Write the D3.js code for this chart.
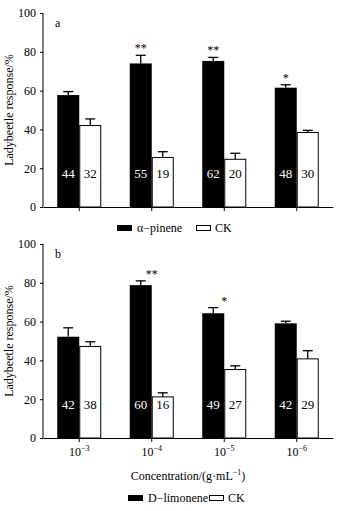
<!DOCTYPE html>
<html>
<head>
<meta charset="utf-8">
<script src="https://cdn.jsdelivr.net/npm/d3@7"></script>
<style>
body { margin:0; background:#fff; }
svg text { font-family:"Liberation Serif", "DejaVu Serif", serif; fill:#000; }
</style>
</head>
<body>
<svg id="chart"></svg>
<script>
var screen = {width:337, height:511};

// concentration groups (x axis)
var concentrations = ["-3", "-4", "-5", "-6"];
var yTicks = [0, 20, 40, 60, 80, 100];

// panel a : alpha-pinene vs CK
var pineneMean = [57.7, 74, 75.3, 61.5];
var pineneErr = [1.8, 4.2, 1.8, 1.5];
var pineneCount = [44, 55, 62, 48];
var pineneStars = ["", "**", "**", "*"];
var ckAMean = [42, 25.5, 24.6, 38.4];
var ckAErr = [3.4, 3, 3.1, 1.1];
var ckACount = [32, 19, 20, 30];

// panel b : D-limonene vs CK
var limoneneMean = [52.2, 78.8, 64.3, 59.1];
var limoneneErr = [4.6, 2.2, 2.9, 1.1];
var limoneneCount = [42, 60, 49, 42];
var limoneneStars = ["", "**", "*", ""];
var ckBMean = [47.2, 21.2, 35.3, 40.8];
var ckBErr = [2.4, 2.1, 1.9, 4.2];
var ckBCount = [38, 16, 27, 29];

var svg = d3.select("#chart")
    .attr("width", screen.width)
    .attr("height", screen.height);

var drawPanel = function(opts)
    {
        var margins = {left:43, right:4};
        var width = screen.width - margins.left - margins.right;
        var g = svg.append("g")
            .attr("transform", "translate("+margins.left+","+opts.top+")");

        var xscale = d3.scaleBand()
            .domain(concentrations)
            .range([0, width]);
        var yscale = d3.scaleLinear()
            .domain([0, 100])
            .range([opts.height, 0]);
        var barW = 22;

        // y axis
        var yAxis = d3.axisLeft(yscale).tickValues(yTicks).tickSize(3).tickPadding(4);
        var ya = g.append("g").call(yAxis);
        ya.select(".domain").attr("d", "M0,0V"+opts.height);
        ya.selectAll("text").style("font-size", "12px").attr("fill", "#000");

        // x axis
        var xAxis = d3.axisBottom(xscale).tickSize(4).tickSizeOuter(0);
        var xa = g.append("g")
            .attr("transform", "translate(0,"+opts.height+")")
            .call(xAxis);
        xa.selectAll(".tick text").remove();

        if (opts.showTicks)
            {
                var lab = xa.selectAll(".tick").append("text")
                    .attr("y", 18)
                    .attr("text-anchor", "middle")
                    .attr("fill", "#000")
                    .style("font-size", "12px");
                lab.text("10");
                lab.append("tspan")
                    .attr("dy", -5)
                    .style("font-size", "8px")
                    .text(function(d){ return d.replace("-", "\u2212"); });

                var t = g.append("text")
                    .attr("x", width/2)
                    .attr("y", opts.height + 42)
                    .attr("text-anchor", "middle")
                    .style("font-size", "12px")
                    .text("Concentration/(g\u00b7mL");
                t.append("tspan").attr("dy", -5).style("font-size", "8px").text("\u22121");
                t.append("tspan").attr("dy", 5).text(")");
            }

        // y title
        g.append("text")
            .attr("transform", "translate(-30,"+(opts.height/2)+") rotate(-90)")
            .attr("text-anchor", "middle")
            .style("font-size", "12px")
            .text("Ladybeetle response/%");

        g.append("text")
            .attr("x", 12).attr("y", 14)
            .style("font-size", "12px")
            .text(opts.letter);

        var rows = concentrations.map(function(c, i)
            {
                return {c:c, tm:opts.treat[i], te:opts.treatErr[i], tn:opts.treatN[i],
                        cm:opts.ck[i], ce:opts.ckErr[i], cn:opts.ckN[i], star:opts.stars[i]};
            });
        var center = function(d){ return xscale(d.c) + xscale.bandwidth()/2; };

        var grp = g.selectAll(".grp").data(rows).enter().append("g");

        var errBar = function(sel, xf, mean, err)
            {
                sel.append("line")
                    .attr("x1", xf).attr("x2", xf)
                    .attr("y1", function(d){ return yscale(mean(d)); })
                    .attr("y2", function(d){ return yscale(mean(d)+err(d)); })
                    .attr("stroke", "#000").attr("stroke-width", 1.3);
                sel.append("line")
                    .attr("x1", function(d){ return xf(d)-5; })
                    .attr("x2", function(d){ return xf(d)+5; })
                    .attr("y1", function(d){ return yscale(mean(d)+err(d)); })
                    .attr("y2", function(d){ return yscale(mean(d)+err(d)); })
                    .attr("stroke", "#000").attr("stroke-width", 1.3);
            };

        grp.append("rect")
            .attr("x", function(d){ return center(d) - barW; })
            .attr("y", function(d){ return yscale(d.tm); })
            .attr("width", barW)
            .attr("height", function(d){ return opts.height - yscale(d.tm); })
            .attr("fill", "#000");
        grp.append("rect")
            .attr("x", function(d){ return center(d) + 0.5; })
            .attr("y", function(d){ return yscale(d.cm); })
            .attr("width", barW - 1)
            .attr("height", function(d){ return opts.height - yscale(d.cm); })
            .attr("fill", "#fff").attr("stroke", "#000").attr("stroke-width", 1);

        errBar(grp, function(d){ return center(d) - barW/2; }, function(d){ return d.tm; }, function(d){ return d.te; });
        errBar(grp, function(d){ return center(d) + barW/2; }, function(d){ return d.cm; }, function(d){ return d.ce; });

        grp.append("text")
            .attr("x", function(d){ return center(d) - barW/2; })
            .attr("y", yscale(15))
            .attr("text-anchor", "middle")
            .style("fill", "#fff")
            .style("font-size", "13px")
            .text(function(d){ return d.tn; });
        grp.append("text")
            .attr("x", function(d){ return center(d) + barW/2; })
            .attr("y", yscale(15))
            .attr("text-anchor", "middle")
            .style("font-size", "13px")
            .text(function(d){ return d.cn; });

        grp.append("text")
            .attr("x", function(d){ return center(d) - barW/2 + opts.starDx; })
            .attr("y", function(d){ return yscale(d.tm + d.te) - 3; })
            .attr("text-anchor", "middle")
            .style("font-size", "12px")
            .text(function(d){ return d.star; });

        // legend
        var leg = g.append("g").attr("transform", "translate(0,"+opts.legendY+")");
        leg.append("rect").attr("x", opts.legX[0]).attr("y", -3).attr("width", 15).attr("height", 6).attr("fill", "#000");
        leg.append("text").attr("x", opts.legX[0]+20).attr("y", 4).style("font-size", "12px").text(opts.treatName);
        leg.append("rect").attr("x", opts.legX[1]+0.5).attr("y", -2.5).attr("width", 14).attr("height", 5)
            .attr("fill", "#fff").attr("stroke", "#000").attr("stroke-width", 1);
        leg.append("text").attr("x", opts.legX[1]+19).attr("y", 4).style("font-size", "12px").text("CK");
    };

drawPanel({top:13, height:194, letter:"a", showTicks:false,
    treat:pineneMean, treatErr:pineneErr, treatN:pineneCount, stars:pineneStars,
    ck:ckAMean, ckErr:ckAErr, ckN:ckACount, treatName:"\u03b1\u2212pinene",
    starDx:0, legendY:215, legX:[74, 153]});

drawPanel({top:244, height:194, letter:"b", showTicks:true,
    treat:limoneneMean, treatErr:limoneneErr, treatN:limoneneCount, stars:limoneneStars,
    ck:ckBMean, ckErr:ckBErr, ckN:ckBCount, treatName:"D\u2212limonene",
    starDx:11, legendY:254, legX:[85, 166]});
</script>
</body>
</html>
